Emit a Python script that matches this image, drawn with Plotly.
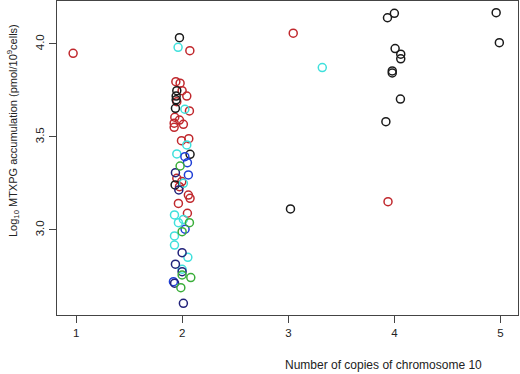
import plotly.graph_objects as go

# Data (x = copies of chromosome 10 with jitter, y = log10 MTXPG)
red_x = [0.97, 3.046, 3.94, 2.071, 1.939, 1.979, 1.998, 2.042, 1.948, 2.067, 1.929, 1.973,
         1.923, 2.010, 1.923, 1.992, 2.061, 1.948, 1.995, 1.973, 2.057, 2.073, 1.963, 2.048]
red_y = [3.950, 4.058, 3.152, 3.964, 3.797, 3.789, 3.749, 3.720, 3.690, 3.640, 3.606, 3.591,
         3.574, 3.568, 3.552, 3.480, 3.491, 3.278, 3.260, 3.233, 3.188, 3.170, 3.143, 3.090]

black_x = [1.973, 1.948, 1.942, 1.942, 1.935, 2.073, 1.932, 3.020,
           3.935, 4.000, 4.960, 4.990, 4.007, 4.060, 4.060, 3.980, 3.980, 4.057, 3.920]
black_y = [4.034, 3.749, 3.720, 3.700, 3.654, 3.407, 3.242, 3.113,
           4.141, 4.165, 4.168, 4.007, 3.975, 3.945, 3.920, 3.855, 3.844, 3.704, 3.582]

cyan_x = [1.960, 2.024, 2.042, 1.948, 2.010, 1.926, 2.010, 1.963, 1.926, 1.926, 2.052, 1.998, 3.320]
cyan_y = [3.982, 3.649, 3.457, 3.409, 3.251, 3.081, 3.057, 3.039, 2.968, 2.919, 2.853, 2.789, 3.873]

blue_x = [2.024, 2.048, 2.057, 2.026, 1.916]
blue_y = [3.394, 3.362, 3.296, 3.004, 2.722]

navy_x = [1.935, 1.967, 1.998, 1.935, 1.998, 1.927, 2.010]
navy_y = [3.308, 3.215, 2.878, 2.816, 2.776, 2.714, 2.606]

green_x = [1.979, 2.067, 1.998, 1.998, 2.080, 1.986]
green_y = [3.344, 3.039, 2.991, 2.758, 2.744, 2.690]

x_ticks = [1, 2, 3, 4, 5]
y_ticks = [3.0, 3.5, 4.0]

groups = [
    (red_x, red_y, "#c0282d"),
    (black_x, black_y, "#1a1a1a"),
    (cyan_x, cyan_y, "#3fe0dc"),
    (blue_x, blue_y, "#1f3fd6"),
    (navy_x, navy_y, "#22227a"),
    (green_x, green_y, "#3aae3a"),
]

fig = go.Figure()
for xs, ys, col in groups:
    fig.add_trace(go.Scatter(
        x=xs, y=ys, mode="markers",
        marker=dict(symbol="circle-open", size=8, color=col, line=dict(width=1.5, color=col)),
        showlegend=False, hoverinfo="skip", cliponaxis=False))

axis_common = dict(showline=True, linecolor="#444", linewidth=1, mirror=True,
                   ticks="outside", ticklen=7, tickcolor="#444", tickwidth=1,
                   showgrid=False, zeroline=False, automargin=False,
                   tickfont=dict(family="Liberation Sans, Arial, sans-serif", size=11.5, color="#222"))

fig.update_layout(
    width=520, height=374,
    margin=dict(l=57, r=2, t=1, b=59),
    paper_bgcolor="white", plot_bgcolor="white",
    xaxis=dict(range=[0.818, 5.166], tickvals=x_ticks, ticktext=[str(v) for v in x_ticks], **axis_common),
    yaxis=dict(range=[2.543, 4.231], tickvals=y_ticks, ticktext=["3.0", "3.5", "4.0"],
               tickangle=-90, **axis_common),
    font=dict(family="Liberation Sans, Arial, sans-serif", size=11, color="#222"),
    annotations=[
        dict(text="Number of copies of chromosome 10", xref="paper", yref="paper",
             x=(383 - 57) / 461, y=-(365 - 315) / 314, xanchor="center", yanchor="middle",
             showarrow=False, font=dict(size=12)),
        dict(text="Log<sub>10</sub> MTXPG accumulation (pmol/10<sup>9</sup>cells)",
             xref="paper", yref="paper", x=-(57 - 13) / 461, y=(315 - 131) / 314,
             xanchor="center", yanchor="middle", textangle=-90, showarrow=False,
             font=dict(size=11)),
    ],
)

fig.write_html("out.html", config={"displayModeBar": False, "staticPlot": True},
               post_script="document.body.style.margin='0';document.body.style.overflow='hidden';")
